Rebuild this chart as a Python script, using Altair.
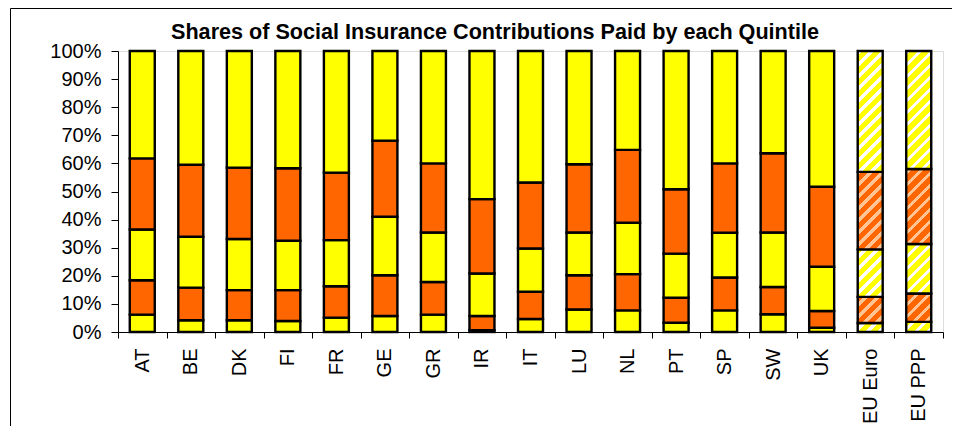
import altair as alt
import pandas as pd

countries = ["AT", "BE", "DK", "FI", "FR", "GE", "GR", "IR", "IT", "LU",
             "NL", "PT", "SP", "SW", "UK", "EU Euro", "EU PPP"]
q1 = [6.2, 4.2, 4.2, 3.9, 5.1, 5.7, 6.2, 0.6, 4.6, 8.0, 7.7, 3.3, 7.7, 6.3, 1.5, 3.2, 3.6]
q2 = [12.2, 11.6, 10.7, 11.0, 11.2, 14.5, 11.6, 5.1, 9.7, 12.2, 12.9, 8.9, 11.7, 9.7, 6.0, 9.3, 10.1]
q3 = [18.1, 18.1, 18.2, 17.6, 16.4, 20.8, 17.6, 15.1, 15.4, 15.2, 18.3, 15.7, 15.9, 19.4, 15.7, 16.9, 17.6]
q4 = [25.3, 25.6, 25.4, 25.8, 24.0, 27.1, 24.6, 26.5, 23.5, 24.3, 25.9, 22.9, 24.7, 28.2, 28.5, 27.6, 26.7]
q5 = [38.2, 40.5, 41.5, 41.7, 43.3, 31.9, 40.0, 52.7, 46.8, 40.3, 35.2, 49.2, 40.0, 36.4, 48.3, 43.0, 42.0]
quintiles = ["Q1", "Q2", "Q3", "Q4", "Q5"]
striped = ["EU Euro", "EU PPP"]
title_text = "Shares of Social Insurance Contributions Paid by each Quintile"

YELLOW = "#FFFF00"
ORANGE = "#FF6600"
STRIPE_ON_YELLOW = "#FFFFFF"
STRIPE_ON_ORANGE = "#FFC493"
FONT = "Liberation Sans"

W, H = 825, 281
BAR_BAND = 0.515

rows = []
for i, c in enumerate(countries):
    vals = [q1[i], q2[i], q3[i], q4[i], q5[i]]
    tot = sum(vals)
    cum = 0.0
    for q, v in zip(quintiles, vals):
        v = v / tot * 100
        rows.append({"country": c, "quintile": q, "start": cum, "end": cum + v})
        cum += v
df = pd.DataFrame(rows)

x_enc = alt.X("country:N", sort=countries,
              scale=alt.Scale(domain=countries, paddingInner=0, paddingOuter=0),
              axis=alt.Axis(title=None, labelAngle=-90, labelFontSize=20, labelFont=FONT,
                            labelColor="black", tickBand="extent", tickSize=6,
                            tickColor="black", domainColor="black", labelPadding=10,
                            zindex=1))
y_enc = alt.Y("start:Q", scale=alt.Scale(domain=[0, 100], nice=False),
              axis=alt.Axis(title=None, values=list(range(0, 101, 10)),
                            labelExpr="datum.value + '%'", labelFontSize=20,
                            labelFont=FONT, labelColor="black", tickSize=7,
                            tickColor="black", domainColor="black", labelPadding=10,
                            grid=False, zindex=1))

bar_kw = dict(stroke="black", strokeWidth=2.4, width={"band": BAR_BAND})

base = alt.Chart(df[~df.country.isin(striped)]).mark_bar(**bar_kw).encode(
    x=x_enc, y=y_enc, y2="end:Q",
    fill=alt.Fill("quintile:N",
                  scale=alt.Scale(domain=quintiles,
                                  range=[YELLOW, ORANGE, YELLOW, ORANGE, YELLOW]),
                  legend=None),
)


def stripe_gradient(col, scol, w, h, ytop, pitch=12.0, frac=0.36):
    L = w + h
    phase = ytop % pitch
    stops = []
    c = -phase
    while c < L:
        for a, b, colr in ((c, c + frac * pitch, scol), (c + frac * pitch, c + pitch, col)):
            a2, b2 = max(a, 0.0), min(b, L)
            if b2 > a2:
                stops.append({"offset": a2 / L, "color": colr})
                stops.append({"offset": b2 / L, "color": colr})
        c += pitch
    den = w * w + h * h
    return {"gradient": "linear", "x1": 0, "y1": 0,
            "x2": L * w / den, "y2": L * h / den, "stops": stops}


layers = [base]
bar_w = W / len(countries) * BAR_BAND
for _, r in df[df.country.isin(striped)].iterrows():
    h = (r["end"] - r["start"]) / 100 * H
    ytop = (1 - r["end"] / 100) * H
    if r["quintile"] in ("Q2", "Q4"):
        grad = stripe_gradient(ORANGE, STRIPE_ON_ORANGE, bar_w, h, ytop)
    else:
        grad = stripe_gradient(YELLOW, STRIPE_ON_YELLOW, bar_w, h, ytop)
    seg = alt.Chart(pd.DataFrame([r.to_dict()])).mark_bar(**bar_kw).encode(
        x=x_enc, y=y_enc, y2="end:Q", fill=alt.value(grad))
    layers.append(seg)

frame_df = pd.DataFrame({"k": [0]})
left_border = alt.Chart(frame_df).mark_rule(color="black", strokeWidth=1).encode(
    x=alt.value(-107.5), y=alt.value(-42.5), y2=alt.value(400))
top_border = alt.Chart(frame_df).mark_rule(color="black", strokeWidth=1).encode(
    x=alt.value(-107.5), x2=alt.value(834), y=alt.value(-42.5), y2=alt.value(-42.5))
title_mark = alt.Chart(frame_df).mark_text(
    text=title_text, font=FONT, fontSize=21.6, fontWeight="bold", color="black",
    align="center", baseline="alphabetic").encode(
    x=alt.value(377), y=alt.value(-12))
layers += [left_border, top_border, title_mark]

chart = alt.layer(*layers).properties(
    width=W, height=H,
    autosize=alt.AutoSizeParams(type="none"),
    padding={"left": 110, "top": 43, "right": 10, "bottom": 94},
).configure_view(stroke="#808080", strokeWidth=2).configure(background="white")

chart.save("out.html", embed_options={"renderer": "svg", "actions": False})
